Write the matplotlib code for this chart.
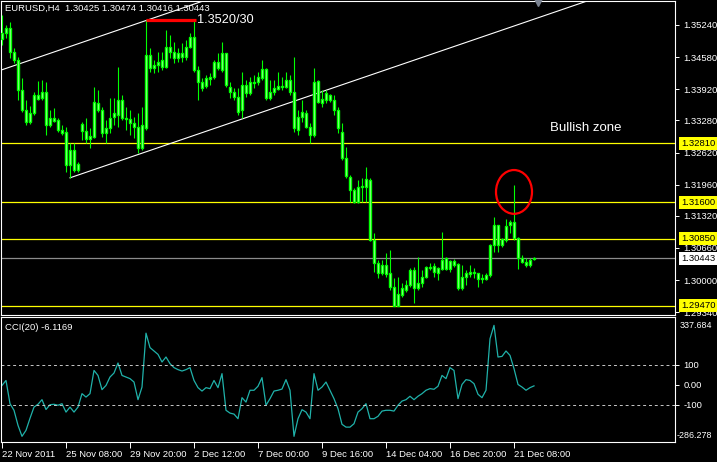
import numpy as np
import matplotlib
matplotlib.use("Agg")
import matplotlib.pyplot as plt
from matplotlib.patches import Ellipse
from matplotlib.transforms import blended_transform_factory

plt.rcParams['font.family'] = ['Liberation Sans', 'DejaVu Sans']

# EURUSD H4 candles, 22 Nov 16:00 -> 21 Dec 2011
opens = [
    1.3495, 1.3508, 1.3518, 1.3469, 1.3452, 1.3390, 1.3349, 1.3325, 1.3343, 1.3380,
    1.3374, 1.3386, 1.3319, 1.3333, 1.3329, 1.3308, 1.3304, 1.3236, 1.3267, 1.3226,
    1.3321, 1.3306, 1.3290, 1.3294, 1.3364, 1.3349, 1.3302, 1.3312, 1.3335, 1.3339,
    1.3370, 1.3333, 1.3331, 1.3323, 1.3314, 1.3271, 1.3312, 1.3462, 1.3436, 1.3442,
    1.3452, 1.3438, 1.3479, 1.3469, 1.3456, 1.3466, 1.3458, 1.3479, 1.3499, 1.3432,
    1.3407, 1.3399, 1.3413, 1.3417, 1.3448, 1.3432, 1.3466, 1.3397, 1.3386, 1.3376,
    1.3349, 1.3401, 1.3384, 1.3407, 1.3407, 1.3415, 1.3434, 1.3374, 1.3386, 1.3393,
    1.3397, 1.3397, 1.3411, 1.3386, 1.3308, 1.3335, 1.3343, 1.3314, 1.3298, 1.3409,
    1.3364, 1.3370, 1.3380, 1.3370, 1.3349, 1.3304, 1.3251, 1.3212, 1.3185, 1.3160,
    1.3191, 1.3191, 1.3206, 1.3082, 1.3035, 1.3014, 1.3031, 1.3014, 1.2986, 1.2947,
    1.2969, 1.2979, 1.2990, 1.3021, 1.2984, 1.2994, 1.3006, 1.3027, 1.3029, 1.3014,
    1.3023, 1.3045, 1.3023, 1.3039, 1.3033, 1.2984, 1.3006, 1.3012, 1.3016, 1.3014,
    1.3002, 1.3002, 1.3010, 1.3072, 1.3113, 1.3072, 1.3082, 1.3113, 1.3119, 1.3086,
    1.3045, 1.3037, 1.3031, 1.30425]
highs = [
    1.3545, 1.3524, 1.3530, 1.3477, 1.3458, 1.3415, 1.3370, 1.3358, 1.3386, 1.3409,
    1.3411, 1.3407, 1.3349, 1.3353, 1.3333, 1.3319, 1.3314, 1.3282, 1.3282, 1.3243,
    1.3325, 1.3333, 1.3312, 1.3397, 1.3390, 1.3356, 1.3329, 1.3374, 1.3374, 1.3438,
    1.3380, 1.3356, 1.3349, 1.3335, 1.3343, 1.3356, 1.3534, 1.3477, 1.3452, 1.3469,
    1.3469, 1.3514, 1.3504, 1.3489, 1.3477, 1.3487, 1.3493, 1.3508, 1.3534, 1.3440,
    1.3415, 1.3421, 1.3425, 1.3452, 1.3466, 1.3489, 1.3466, 1.3407, 1.3395, 1.3395,
    1.3427, 1.3411, 1.3417, 1.3421, 1.3427, 1.3452, 1.3436, 1.3411, 1.3411, 1.3427,
    1.3417, 1.3427, 1.3421, 1.3458, 1.3349, 1.3370, 1.3349, 1.3323, 1.3436, 1.3411,
    1.3390, 1.3390, 1.3382, 1.3380, 1.3356, 1.3323, 1.3273, 1.3216, 1.3189, 1.3206,
    1.3210, 1.3232, 1.3210, 1.3097, 1.3041, 1.3041, 1.3056, 1.3062, 1.3004, 1.3006,
    1.2994, 1.3000, 1.3025, 1.3027, 1.3047, 1.3021, 1.3029, 1.3035, 1.3035, 1.3027,
    1.3099, 1.3047, 1.3041, 1.3043, 1.3035, 1.3031, 1.3021, 1.3031, 1.3025, 1.3014,
    1.3012, 1.3014, 1.3074, 1.3130, 1.3113, 1.3086, 1.3125, 1.3123, 1.3195, 1.3088,
    1.3051, 1.3045, 1.3045, 1.30474]
lows = [
    1.3483, 1.3497, 1.3456, 1.3446, 1.3370, 1.3345, 1.3319, 1.3321, 1.3339, 1.3370,
    1.3370, 1.3298, 1.3314, 1.3325, 1.3304, 1.3298, 1.3222, 1.3210, 1.3222, 1.3222,
    1.3288, 1.3282, 1.3271, 1.3292, 1.3345, 1.3294, 1.3282, 1.3302, 1.3319, 1.3314,
    1.3329, 1.3308, 1.3298, 1.3292, 1.3261, 1.3267, 1.3308, 1.3427, 1.3425, 1.3427,
    1.3432, 1.3436, 1.3456, 1.3446, 1.3448, 1.3448, 1.3452, 1.3477, 1.3427, 1.3370,
    1.3388, 1.3395, 1.3401, 1.3413, 1.3432, 1.3427, 1.3397, 1.3374, 1.3370, 1.3339,
    1.3333, 1.3376, 1.3380, 1.3395, 1.3401, 1.3411, 1.3370, 1.3370, 1.3380, 1.3390,
    1.3390, 1.3395, 1.3380, 1.3304, 1.3298, 1.3325, 1.3312, 1.3282, 1.3294, 1.3364,
    1.3356, 1.3364, 1.3366, 1.3339, 1.3302, 1.3247, 1.3210, 1.3160, 1.3158, 1.3158,
    1.3160, 1.3160, 1.3080, 1.3016, 1.3004, 1.3010, 1.3006, 1.2979, 1.2946, 1.2946,
    1.2965, 1.2975, 1.2986, 1.2953, 1.2979, 1.2986, 1.3004, 1.3021, 1.3006, 1.3000,
    1.3021, 1.3021, 1.3016, 1.3027, 1.2979, 1.2979, 1.2990, 1.3006, 1.3004, 1.2986,
    1.2994, 1.3000, 1.3006, 1.3058, 1.3058, 1.3068, 1.3078, 1.3097, 1.3082, 1.3023,
    1.3035, 1.3027, 1.3027, 1.30416]
closes = [
    1.3508, 1.3518, 1.3469, 1.3452, 1.3390, 1.3349, 1.3325, 1.3343, 1.3380, 1.3372,
    1.3386, 1.3319, 1.3333, 1.3327, 1.3308, 1.3302, 1.3236, 1.3267, 1.3226, 1.3238,
    1.3306, 1.3290, 1.3296, 1.3366, 1.3349, 1.3302, 1.3312, 1.3333, 1.3343, 1.3370,
    1.3333, 1.3331, 1.3323, 1.3314, 1.3271, 1.3319, 1.3462, 1.3436, 1.3442, 1.3448,
    1.3438, 1.3479, 1.3469, 1.3456, 1.3466, 1.3458, 1.3479, 1.3499, 1.3432, 1.3407,
    1.3395, 1.3415, 1.3417, 1.3448, 1.3436, 1.3466, 1.3401, 1.3386, 1.3376, 1.3345,
    1.3401, 1.3384, 1.3407, 1.3405, 1.3417, 1.3434, 1.3374, 1.3386, 1.3395, 1.3399,
    1.3399, 1.3411, 1.3386, 1.3312, 1.3335, 1.3345, 1.3314, 1.3298, 1.3407, 1.3366,
    1.3372, 1.3384, 1.3370, 1.3349, 1.3312, 1.3251, 1.3214, 1.3185, 1.3160, 1.3191,
    1.3193, 1.3208, 1.3082, 1.3035, 1.3014, 1.3031, 1.3012, 1.2986, 1.2947, 1.2971,
    1.2984, 1.2990, 1.3021, 1.2984, 1.2994, 1.3006, 1.3027, 1.3025, 1.3016, 1.3025,
    1.3041, 1.3023, 1.3039, 1.3031, 1.2984, 1.3006, 1.3014, 1.3016, 1.3014, 1.3002,
    1.3004, 1.3010, 1.3072, 1.3113, 1.3072, 1.3084, 1.3111, 1.3119, 1.3086, 1.3045,
    1.3037, 1.3031, 1.3041, 1.30443]

cci = [
    -4, 21, -95, -128, -203, -258, -228, -168, -112, -98,
    -75, -124, -100, -98, -103, -95, -137, -112, -137, -112,
    -45, -62, -45, 71, 46, -25, -4, 38, 58, 108,
    46, 38, 30, 13, -75, -12, 257, 185, 168, 151,
    113, 138, 105, 85, 75, 68, 75, 85, 21, -15,
    -32, -15, -20, 21, -15, 55, -128, -142, -147, -170,
    -65, -87, -28, -28, -8, 35, -103, -70, -32, -28,
    -22, 25, -28, -258, -170, -125, -137, -170, 55, -28,
    -12, 13, -28, -70, -120, -198, -212, -212, -195, -137,
    -120, -95, -170, -170, -158, -132, -128, -128, -132, -103,
    -82, -75, -58, -75, -58, -45, -28, -20, -23, -8,
    46, 30, 85, 71, -70, 1, 25, 21, 5, -48,
    -65, -28, 229, 296, 138, 141, 168, 146, 80, 1,
    -12, -28, -15, -6.1169]

time_bars = [0, 16, 32, 48, 64, 80, 96, 112, 128]
time_labels = ['22 Nov 2011', '25 Nov 08:00', '29 Nov 20:00', '2 Dec 12:00',
               '7 Dec 00:00', '9 Dec 16:00', '14 Dec 04:00', '16 Dec 20:00',
               '21 Dec 08:00']

price_ticks = [1.35240, 1.34580, 1.33920, 1.33280, 1.32620,
               1.31960, 1.31320, 1.30660, 1.30000, 1.29340]
levels = [1.32810, 1.31600, 1.30850, 1.29470]
bid = 1.30443
cci_max, cci_min = 337.684, -286.278

# drawn objects
channel_slope = 0.000281          # price per bar
lower_anchor = (17, 1.3210)
upper_anchor = (0, 1.3432)
resist_bars = [36, 48.5]
resist_price = 1.3534
circle_center = (128.0, 1.3181)

W, H = 717, 462
GREEN = '#00ff00'
LAB = 6.8
fig = plt.figure(figsize=(W / 100, H / 100), dpi=100, facecolor='black')
ax = fig.add_axes([1 / W, 147 / H, 674 / W, 314 / H], facecolor='black')
axc = fig.add_axes([1 / W, 20 / H, 674 / W, 125 / H], facecolor='black')

for a in (ax, axc):
    for s in a.spines.values():
        s.set_color('white')
        s.set_linewidth(0.8)
    a.set_xlim(-0.25, 168.25)

x = np.arange(len(opens))
o = np.array(opens)
c = np.array(closes)

# candles
ax.vlines(x, lows, highs, color=GREEN, lw=0.8, zorder=3)
ax.bar(x, np.maximum(np.abs(c - o), 0.00003), bottom=np.minimum(o, c), width=0.45,
       facecolor='#c8ffc0', edgecolor=GREEN, lw=1.0, zorder=4)

# horizontal levels
for lv in levels:
    ax.axhline(lv, color='#ffff00', lw=0.9, zorder=2)
ax.axhline(bid, color='#8c8c8c', lw=0.9, zorder=2)

# channel lines
ax.axline(upper_anchor, slope=channel_slope, color='white', lw=0.8, zorder=2)
far = 170
ax.plot([lower_anchor[0], far],
        [lower_anchor[1], lower_anchor[1] + (far - lower_anchor[0]) * channel_slope],
        color='white', lw=0.8, zorder=2)

ax.plot(resist_bars, [resist_price] * 2, color='#ff0000', lw=2.3,
        solid_capstyle='butt', zorder=5)
ax.text(resist_bars[1] + 0.2, resist_price, '1.3520/30', color='white',
        fontsize=9.2, va='center', ha='left', zorder=6)
ax.text(137, 1.3312, 'Bullish zone', color='white', fontsize=9.5,
        va='center', ha='left')
ax.add_patch(Ellipse(circle_center, width=9, height=0.0090, fill=False,
                     edgecolor='#ff0000', lw=1.6, zorder=6))

ax.set_ylim(1.29281, 1.35733)
ax.set_xticks([])
ax.yaxis.tick_right()
ax.set_yticks(price_ticks)
ax.set_yticklabels([f'{p:.5f}' for p in price_ticks])
ax.tick_params(axis='y', colors='white', labelsize=LAB, length=3, width=0.7, pad=3)

# shift marker at top
ax.plot([134], [1.3571], marker='v', ms=6, color='#7a8290', clip_on=False, zorder=7)

tr = blended_transform_factory(ax.transAxes, ax.transData)
xoff = 1.0 + 6 / 674
for lv in levels:
    ax.text(xoff, lv, f'{lv:.5f}', transform=tr, fontsize=LAB, color='black',
            va='center', ha='left', zorder=10, clip_on=False,
            bbox=dict(boxstyle='square,pad=0.22', fc='#ffff00', ec='none'))
ax.text(xoff, bid, f'{bid:.5f}', transform=tr, fontsize=LAB, color='black',
        va='center', ha='left', zorder=10, clip_on=False,
        bbox=dict(boxstyle='square,pad=0.22', fc='white', ec='none'))

fig.text(5 / W, 1 - 8.5 / H, 'EURUSD,H4  1.30425 1.30474 1.30416 1.30443',
         color='white', fontsize=LAB, va='center', ha='left')

# CCI panel
axc.plot(x, cci, color='#20b2aa', lw=0.9)
for lv in (100, -100):
    axc.axhline(lv, color='#c8c8c8', lw=0.7, ls=(0, (3, 3)))
axc.set_ylim(cci_min, cci_max)
axc.yaxis.tick_right()
axc.set_yticks([100, 0, -100])
axc.set_yticklabels(['100', '0.00', '-100'])
axc.tick_params(axis='y', colors='white', labelsize=LAB, length=3, width=0.7, pad=3)
trc = blended_transform_factory(axc.transAxes, axc.transData)
axc.annotate(f'{cci_max:.3f}', xy=(1.0, cci_max), xycoords=trc,
             xytext=(3, -6), textcoords='offset points', fontsize=6.4,
             color='white', va='center', ha='left', annotation_clip=False)
axc.annotate(f'{cci_min:.3f}', xy=(1.0, cci_min), xycoords=trc,
             xytext=(1.5, 5), textcoords='offset points', fontsize=6.4,
             color='white', va='center', ha='left', annotation_clip=False)
axc.text(0.006, 0.92, 'CCI(20) -6.1169', transform=axc.transAxes, fontsize=LAB,
         color='white', va='center', ha='left')

axc.set_xticks(time_bars)
axc.set_xticklabels(time_labels)
axc.tick_params(axis='x', colors='white', labelsize=LAB, length=4, width=0.7, pad=2)
for lbl in axc.get_xticklabels():
    lbl.set_horizontalalignment('left')

fig.savefig('out.png', dpi=100, facecolor='black')
